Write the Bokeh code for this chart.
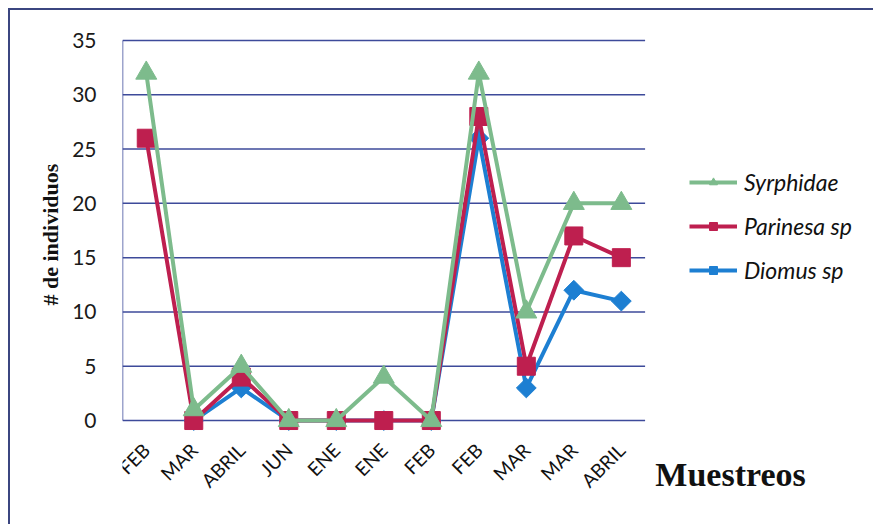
import math
from bokeh.plotting import figure
from bokeh.models import (ColumnDataSource, Legend, LegendItem, FixedTicker, Range1d, Label,
                          LinearAxis, Title)
from bokeh.embed import file_html
from bokeh.resources import INLINE

meses = ["FEB", "MAR", "ABRIL", "JUN", "ENE", "ENE", "FEB", "FEB", "MAR", "MAR", "ABRIL"]
syrphidae = [32, 1, 5, 0, 0, 4, 0, 32, 10, 20, 20]
parinesa = [26, 0, 4, 0, 0, 0, 0, 28, 5, 17, 15]
diomus = [float("nan"), 0, 3, 0, 0, 0, 0, 26, 3, 12, 11]
y_ticks = [0, 5, 10, 15, 20, 25, 30, 35]

x = list(range(len(meses)))

p = figure(width=865, height=516, output_backend="svg", toolbar_location=None,
           x_axis_location=None,
           x_range=Range1d(-0.5, 15.35), y_range=Range1d(-9.76, 36.29),
           min_border_left=112, min_border_right=0, min_border_top=16, min_border_bottom=0)
p.margin = (8, 0, 0, 8)
p.styles = {"border-top": "2px solid #3b4680", "border-left": "2px solid #3b4680"}
p.outline_line_color = None
p.background_fill_color = "white"
p.border_fill_color = "white"
p.xgrid.visible = False
p.ygrid.visible = False

# horizontal grid lines and vertical axis line, limited to the category span
n = len(y_ticks)
p.segment(x0=[x[0] - 0.5] * n, y0=y_ticks, x1=[x[-1] + 0.5] * n, y1=y_ticks,
          line_color="#3d4a9a", line_width=1.5)
p.segment(x0=[x[0] - 0.5], y0=[min(y_ticks)], x1=[x[0] - 0.5], y1=[max(y_ticks)],
          line_color="#3d4a9a", line_width=1.5)

# y axis
p.yaxis.ticker = FixedTicker(ticks=y_ticks)
p.yaxis.axis_line_color = None
p.yaxis.major_tick_line_color = None
p.yaxis.minor_tick_line_color = None
p.yaxis.major_label_standoff = 20
p.yaxis.major_label_text_font = "Lato"
p.yaxis.major_label_text_font_size = "21px"
p.yaxis.major_label_text_color = "#1a1a1a"

ytitle = Title(text="# de individuos", align="left", offset=221,
               text_font="Liberation Serif", text_font_style="bold",
               text_font_size="22px", text_color="#111111", standoff=14)
p.add_layout(ytitle, "left")

# x axis fixed at y = 0
xaxis = LinearAxis(fixed_location=0, ticker=FixedTicker(ticks=x),
                   major_label_overrides={i: m for i, m in enumerate(meses)})
xaxis.axis_line_color = None
xaxis.major_tick_line_color = None
xaxis.minor_tick_line_color = None
xaxis.major_label_orientation = math.pi / 4
xaxis.major_label_standoff = 20
xaxis.major_label_text_font = "Lato"
xaxis.major_label_text_font_size = "19px"
xaxis.major_label_text_color = "#111111"
p.add_layout(xaxis, "below")

green = "#7dbb8c"
red = "#be1f4f"
blue = "#1d7fd2"

src = ColumnDataSource(dict(x=x, s=syrphidae, p=parinesa, d=diomus))

ld = p.line("x", "d", source=src, line_color=blue, line_width=4)
md = p.scatter("x", "d", source=src, marker="square", angle=math.pi / 4, size=14,
               fill_color=blue, line_color=blue)
lp = p.line("x", "p", source=src, line_color=red, line_width=4)
mp = p.scatter("x", "p", source=src, marker="square", size=18, fill_color=red, line_color=red)
ls = p.line("x", "s", source=src, line_color=green, line_width=4)
ms = p.scatter("x", "s", source=src, marker="triangle", size=21, fill_color=green, line_color=green)

legend = Legend(items=[
    LegendItem(label="Syrphidae", renderers=[ls, ms]),
    LegendItem(label="Parinesa sp", renderers=[lp, mp]),
    LegendItem(label="Diomus sp", renderers=[ld, md]),
], location=(567, 242))
legend.label_text_font = "Lato"
legend.label_text_font_style = "italic"
legend.label_text_font_size = "23px"
legend.label_text_color = "#111111"
legend.glyph_width = 48
legend.glyph_height = 20
legend.spacing = 16
legend.label_standoff = 7
legend.padding = 5
legend.margin = 0
legend.border_line_color = None
legend.background_fill_alpha = 0
p.add_layout(legend, "center")

p.add_layout(Label(x=10.716, y=-4.97, text="Muestreos", text_baseline="alphabetic",
                   text_font="Liberation Serif", text_font_style="bold",
                   text_font_size="34px", text_color="#111111"))

open("out.html", "w").write(file_html(p, INLINE))
